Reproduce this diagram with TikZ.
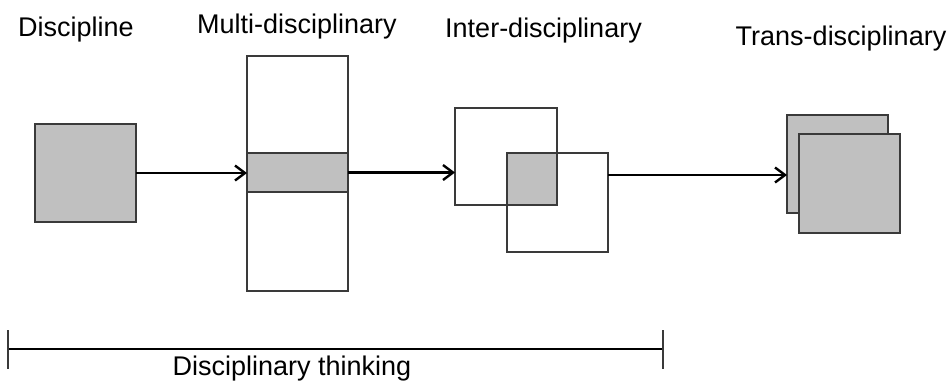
\documentclass[tikz,border=0pt]{standalone}
\usepackage{fontspec}
\setmainfont{Liberation Sans}
\usetikzlibrary{arrows.meta}
\definecolor{boxgray}{HTML}{C0C0C0}
\definecolor{edgegray}{HTML}{3A3A3A}
\begin{document}
\begin{tikzpicture}[x = 1pt, y = -1pt,
                    every node/.style = {inner sep = 0pt, outer sep = 0pt},
                    box/.style = {shape = rectangle, draw = edgegray, line width = 1.5pt},
                    full/.style = {box, fill = boxgray},
                    empty/.style = {box, fill = white},
                    title/.style = {anchor = base, font = \fontsize{27}{32}\selectfont},
                    arr/.style = {line width = 2.4pt, -{Straight Barb[length = 10pt, width = 15pt]}}]
      \useasboundingbox (0, 0) rectangle (952, 381);

      \node [full, minimum width = 101pt, minimum height = 98pt] (a0) at (85.5, 173) {};
      \node [title] (a1) at (76, 36) {Discipline};

      \node [empty, minimum width = 101pt, minimum height = 235pt] (b0) at (297.5, 173.5) {};
      \node [full, minimum width = 101pt, minimum height = 39pt] (b1) at (297.5, 172.5) {};
      \node [title] (b2) at (297, 33) {Multi-disciplinary};

      \node [empty, minimum width = 102pt, minimum height = 97pt] (c0) at (506, 156.5) {};
      \node [empty, minimum width = 101pt, minimum height = 99pt] (c1) at (557.5, 202.5) {};
      \node [full, minimum width = 50pt, minimum height = 52pt] (c2) at (532, 179) {};
      \node [title] (c3) at (543.5, 37) {Inter-disciplinary};

      \node [full, minimum width = 101pt, minimum height = 98pt] (d0) at (837.5, 164) {};
      \node [full, minimum width = 101pt, minimum height = 99pt] (d1) at (849.5, 183.5) {};
      \node [title] (d2) at (841, 45) {Trans-disciplinary};

      \draw [arr] (a0.east) -- (a0.east -| b1.west);
      \draw [arr] (b1.east) -- (b1.east -| c0.west);
      \draw [arr] ([yshift = 27.5pt] c1.east) -- ([yshift = -11pt] d0.west);

      \coordinate (e0) at (8, 349);
      \coordinate (e1) at (663, 349);
      \draw [line width = 2.4pt] (e0) -- (e1);
      \draw [line width = 1.2pt, draw = edgegray] ([yshift = 19pt] e0) -- ([yshift = -20pt] e0)
                                                  ([yshift = 19pt] e1) -- ([yshift = -20pt] e1);
      \node [title] (e2) at (292, 375) {Disciplinary thinking};
    \end{tikzpicture}
\end{document}
